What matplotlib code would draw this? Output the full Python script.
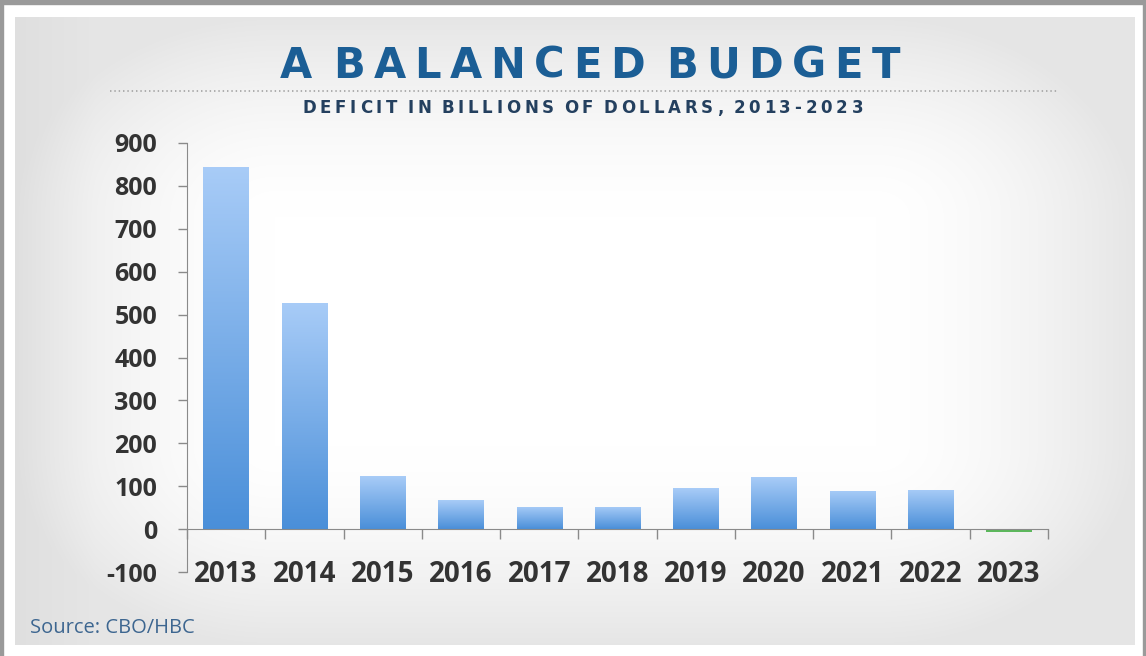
"""
A balanced budget - deficit bar chart
"""
import matplotlib
matplotlib.use('Agg')
import matplotlib.pyplot as plt
from matplotlib.font_manager import FontProperties
import numpy as np

years = ['2013', '2014', '2015', '2016', '2017', '2018', '2019', '2020', '2021', '2022', '2023']
deficit = [845, 527, 123, 67, 52, 52, 95, 121, 89, 91, -6]
y_ticks = [-100, 0, 100, 200, 300, 400, 500, 600, 700, 800, 900]

title = 'A BALANCED BUDGET'
subtitle = 'DEFICIT IN BILLIONS OF DOLLARS, 2013-2023'
source = 'Source: CBO/HBC'

W, H = 1146, 656
fig = plt.figure(figsize=(W / 100, H / 100), dpi=100)
renderer = fig.canvas.get_renderer()


def tracked_text(axis, s, x_left, x_right, y, size, color, space_em=0.2, family='DejaVu Sans'):
    # spread letters so the string fills x_left..x_right (pixel coords of bg axes)
    prop = FontProperties(family=family, weight='bold', size=size)
    space = space_em * size * 100 / 72
    items = []
    for ch in s:
        if ch == ' ':
            items.append((None, space))
            continue
        t = axis.text(0, y, ch, ha='left', va='baseline', fontproperties=prop, color=color, zorder=3)
        items.append((t, t.get_window_extent(renderer).width))
    natural = sum(w for _, w in items)
    gap = (x_right - x_left - natural) / (len(s) - 1)
    xpos = x_left
    for t, w in items:
        if t is not None:
            t.set_x(xpos)
        xpos += w + gap


# background: frame + soft grey panel
bg = fig.add_axes([0, 0, 1, 1], zorder=-1)
bg.axis('off')
px0, px1, py0, py1 = 15, 1135, 17, 645
cx, cy = (px0 + px1) / 2, (py0 + py1) / 2
XX, YY = np.meshgrid(np.arange(px0, px1) - cx, np.arange(py0, py1) - cy)
hw, hh = (px1 - px0) / 2, (py1 - py0) / 2
rx, ry = 260, 200
dx = np.maximum(np.abs(XX) - (hw - rx), 0) / rx
dy = np.maximum(np.abs(YY) - (hh - ry), 0) / ry
d = np.clip(np.sqrt(dx ** 2 + dy ** 2), 0, 1)
shade = 1 - 0.10 * d ** 1.6
shade -= 0.025 * np.clip((-XX - (hw - 80)) / 80, 0, 1)
rgb = np.dstack([shade, shade, shade])
bg.imshow(np.clip(rgb, 0, 1), extent=(px0, px1, py1, py0), aspect='auto',
          interpolation='bilinear', zorder=1)
bg.set_xlim(0, W)
bg.set_ylim(H, 0)
bg.add_patch(plt.Rectangle((0, 0), W, 4, color='#9a9a9a', zorder=2))
bg.add_patch(plt.Rectangle((0, 0), 3, H, color='#9a9a9a', zorder=2))
bg.add_patch(plt.Rectangle((W - 3, 0), 3, H, color='#9a9a9a', zorder=2))

tracked_text(bg, title, 280, 900, 78, 30, '#1b5e95', space_em=0.1)
bg.plot([110, 1058], [90.5, 90.5], linestyle=(0, (0.8, 1.6)), color='#a8a8a8', lw=1.3, zorder=3)
tracked_text(bg, subtitle, 302, 863, 113, 12, '#24405f', space_em=0.15)
bg.text(30, 628, source, ha='left', va='center', fontsize=14.5,
        family='Open Sans', color='#3d6690', zorder=3)

# main chart
ax = fig.add_axes([187 / W, 1 - 572 / H, (1048 - 187) / W, (572 - 143) / H])
ax.set_facecolor('none')
x = np.arange(len(years))
bars = ax.bar(x, deficit, width=0.58, color='none', edgecolor='none', zorder=2)

grad = np.linspace(0, 1, 256).reshape(-1, 1)
top_c = np.array([0.66, 0.80, 0.97])
bot_c = np.array([0.29, 0.56, 0.85])
img = grad[..., None] * top_c + (1 - grad[..., None]) * bot_c
for b, v in zip(bars, deficit):
    x0 = b.get_x()
    w = b.get_width()
    if v >= 0:
        im = ax.imshow(img, extent=(x0, x0 + w, 0, v), origin='lower', aspect='auto', zorder=2)
        im.set_clip_path(b)
    else:
        ax.bar(b.get_x() + w / 2, v, width=w, color='#5cb85c', zorder=2)

ax.set_xlim(-0.5, len(years) - 0.5)
ax.set_ylim(-100, 900)
ax.set_yticks(y_ticks)
ax.set_yticklabels([str(t) for t in y_ticks])
ax.set_xticks(x)
ax.set_xticklabels(years)
ax.set_xticks(np.arange(len(years) + 1) - 0.5, minor=True)

for s in ['top', 'right']:
    ax.spines[s].set_visible(False)
ax.spines['bottom'].set_position(('data', 0))
ax.spines['bottom'].set_color('#8a8a8a')
ax.spines['left'].set_color('#8a8a8a')
ax.spines['bottom'].set_zorder(3)

ax.tick_params(axis='y', length=6.5, width=1, color='#8a8a8a', pad=15,
               labelsize=18, labelcolor='#333333')
ax.tick_params(axis='x', which='major', length=0, pad=22, labelsize=20, labelcolor='#333333')
ax.tick_params(axis='x', which='minor', length=7, width=1, color='#8a8a8a')
for lab in ax.get_xticklabels() + ax.get_yticklabels():
    lab.set_fontweight('bold')
    lab.set_family('Open Sans')

fig.savefig('out.png', dpi=100)
